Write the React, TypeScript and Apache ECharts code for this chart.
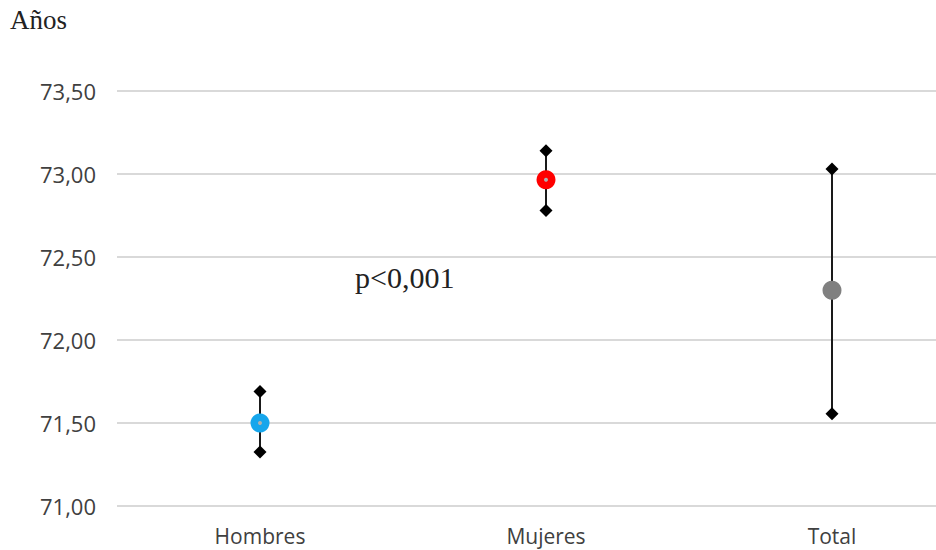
import React, { useEffect, useRef } from "react";
import * as echarts from "echarts";

const categories = ["Hombres", "Mujeres", "Total"];
const meanValues = [71.5, 72.965, 72.3];
const upperValues = [71.69, 73.14, 73.03];
const lowerValues = [71.325, 72.78, 71.555];
const meanColors = ["#16A6EC", "#FF0000", "#808080"];
const centerDotValues = [71.5, 72.965];
const yMin = 71.0;
const yMax = 73.5;
const yInterval = 0.5;
const yTitle = "Años";
const annotation = "p<0,001";

export default function App() {
  const ref = useRef<HTMLDivElement>(null);
  useEffect(() => {
    if (!ref.current) return;
    const chart = echarts.init(ref.current, undefined, { renderer: "svg" });
    chart.setOption({
      animation: false,
      backgroundColor: "#ffffff",
      grid: {
        left: 117,
        width: 858,
        top: 91,
        bottom: 44,
        containLabel: false,
        outerBoundsMode: "none",
      },
      xAxis: {
        type: "category",
        data: categories,
        axisLine: { show: false },
        axisTick: { show: false },
        axisLabel: {
          color: "#404040",
          fontFamily: "Open Sans",
          fontSize: 21,
          margin: 19,
        },
        splitLine: { show: false },
      },
      yAxis: {
        type: "value",
        min: yMin,
        max: yMax,
        interval: yInterval,
        axisLine: { show: false },
        axisTick: { show: false },
        axisLabel: {
          color: "#404040",
          fontFamily: "Open Sans",
          fontSize: 22,
          margin: 21,
          formatter: (v: number) => v.toFixed(2).replace(".", ","),
        },
        splitLine: { lineStyle: { color: "#d9d9d9", width: 2 } },
      },
      graphic: [
        {
          type: "text",
          left: 10,
          top: 6,
          style: {
            text: yTitle,
            font: "27px 'Liberation Serif'",
            fill: "#222222",
          },
        },
        {
          type: "text",
          left: 355,
          top: 262,
          style: {
            text: annotation,
            font: "30px 'Liberation Serif'",
            fill: "#222222",
          },
        },
      ],
      series: [
        {
          type: "custom",
          data: categories.map((_, i) => [i, lowerValues[i], upperValues[i]]),
          encode: { x: 0, y: [1, 2] },
          renderItem: (params: any, api: any) => {
            const a = api.coord([api.value(0), api.value(1)]);
            const b = api.coord([api.value(0), api.value(2)]);
            return {
              type: "line",
              shape: { x1: a[0], y1: a[1], x2: b[0], y2: b[1] },
              style: { stroke: "#1a1a1a", lineWidth: 2 },
            };
          },
          z: 1,
        },
        {
          type: "scatter",
          data: upperValues,
          symbol: "diamond",
          symbolSize: [13, 13],
          itemStyle: { color: "#000000", opacity: 1 },
          z: 2,
        },
        {
          type: "scatter",
          data: lowerValues,
          symbol: "diamond",
          symbolSize: [13, 13],
          itemStyle: { color: "#000000", opacity: 1 },
          z: 2,
        },
        {
          type: "scatter",
          data: meanValues.map((v, i) => ({
            value: v,
            itemStyle: { color: meanColors[i], opacity: 1 },
          })),
          symbol: "circle",
          symbolSize: 19,
          z: 3,
        },
        {
          type: "scatter",
          data: centerDotValues,
          symbol: "circle",
          symbolSize: 4,
          itemStyle: { color: "#b0b0b0", opacity: 1 },
          z: 4,
        },
      ],
    });
    return () => chart.dispose();
  }, []);
  return (
    <div
      ref={ref}
      style={{ position: "absolute", left: 0, top: 0, width: 936, height: 550 }}
    />
  );
}
